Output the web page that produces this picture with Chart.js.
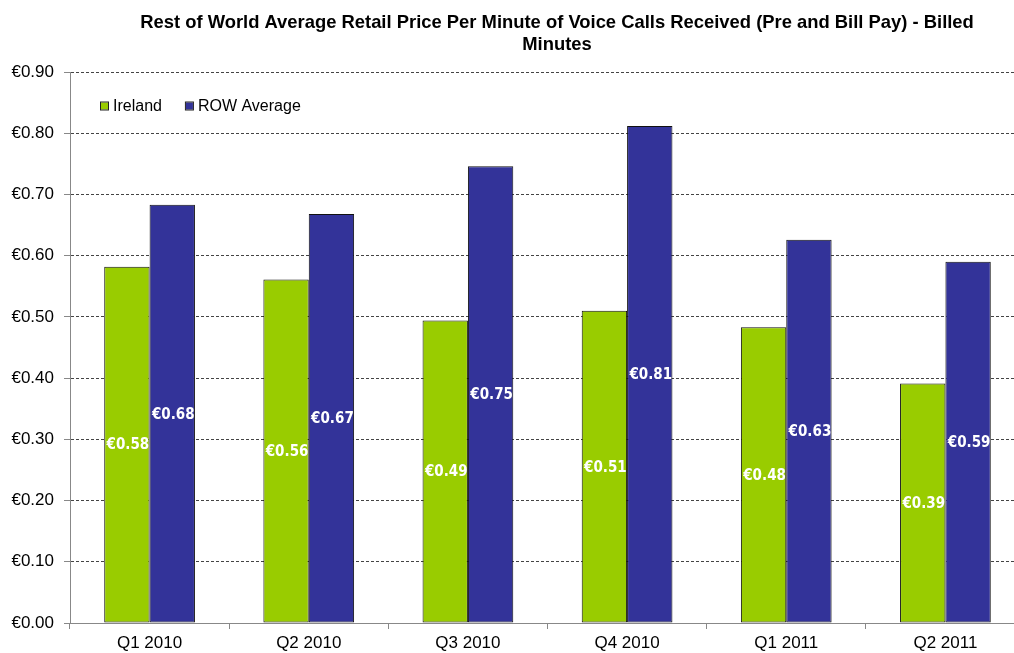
<!DOCTYPE html>
<html>
<head>
<meta charset="utf-8">
<script src="https://cdn.jsdelivr.net/npm/chart.js@4"></script>
<style>
  html, body { margin: 0; padding: 0; background: #fff; overflow: hidden; }
  #wrap { width: 1030px; height: 653px; position: relative; }
</style>
</head>
<body>
<div id="wrap"><canvas id="chart" width="1030" height="653"></canvas></div>
<script>
// chart data (labels round to cents)
const quarters = ['Q1 2010', 'Q2 2010', 'Q3 2010', 'Q4 2010', 'Q1 2011', 'Q2 2011'];
const irelandPrices = [0.582, 0.561, 0.494, 0.510, 0.483, 0.391];
const rowAveragePrices = [0.683, 0.668, 0.746, 0.812, 0.626, 0.590];
const titleLines = [
    'Rest of World Average Retail Price Per Minute of Voice Calls Received (Pre and Bill Pay) - Billed',
    'Minutes'
];

const GREEN = '#99cc00';
const BLUE = '#333399';

function euro(v) {
    return '\u20ac' + v.toFixed(2);
}

// title drawn above the plot, centred a little right of the canvas middle
const titlePlugin = {
    id: 'titleText',
    afterDraw(chart) {
        const ctx = chart.ctx;
        ctx.save();
        ctx.fillStyle = '#000';
        ctx.font = 'bold 18.4px "Liberation Sans", Arial, sans-serif';
        ctx.textAlign = 'center';
        ctx.textBaseline = 'middle';
        ctx.fillText(titleLines[0], 557, 23);
        ctx.fillText(titleLines[1], 557, 45);
        ctx.restore();
    }
};

// legend sits inside the plot, top left
const innerLegend = {
    id: 'innerLegend',
    afterDraw(chart) {
        const ctx = chart.ctx;
        const area = chart.chartArea;
        let x = area.left + 31;
        const y = area.top + 34;
        ctx.save();
        ctx.font = '16px "Liberation Sans", Arial, sans-serif';
        ctx.textBaseline = 'middle';
        chart.data.datasets.forEach(function(ds) {
            ctx.fillStyle = ds.backgroundColor;
            ctx.fillRect(x, y - 3.5, 7, 7);
            ctx.strokeStyle = '#222';
            ctx.lineWidth = 1;
            ctx.strokeRect(x - 0.5, y - 4, 8, 8);
            ctx.fillStyle = '#000';
            ctx.fillText(ds.label, x + 12, y + 1);
            x += 12 + ctx.measureText(ds.label).width + 24;
        });
        ctx.restore();
    }
};

// white value labels in the middle of each bar
const barLabels = {
    id: 'barLabels',
    afterDatasetsDraw(chart) {
        const ctx = chart.ctx;
        ctx.save();
        ctx.fillStyle = '#fff';
        ctx.font = 'bold 15px "DejaVu Sans Condensed", "DejaVu Sans", Verdana, sans-serif';
        ctx.textAlign = 'center';
        ctx.textBaseline = 'middle';
        chart.data.datasets.forEach(function(ds, i) {
            chart.getDatasetMeta(i).data.forEach(function(bar, j) {
                ctx.fillText(euro(ds.data[j]), bar.x + 1, (bar.y + bar.base) / 2 + 1);
            });
        });
        ctx.restore();
    }
};

new Chart(document.getElementById('chart'), {
    type: 'bar',
    data: {
        labels: quarters,
        datasets: [
            {
                label: 'Ireland',
                data: irelandPrices,
                backgroundColor: GREEN,
                borderColor: '#111',
                borderWidth: 1,
                borderSkipped: false
            },
            {
                label: 'ROW Average',
                data: rowAveragePrices,
                backgroundColor: BLUE,
                borderColor: '#111',
                borderWidth: 1,
                borderSkipped: false
            }
        ]
    },
    options: {
        responsive: false,
        animation: false,
        layout: { padding: { top: 72, right: 5, left: 0, bottom: 0 } },
        datasets: {
            bar: { barPercentage: 1, categoryPercentage: 0.57 }
        },
        plugins: {
            legend: { display: false },
            title: { display: false },
            tooltip: { enabled: false }
        },
        scales: {
            x: {
                grid: {
                    display: true,
                    drawOnChartArea: false,
                    offset: true,
                    tickLength: 6,
                    tickColor: '#888'
                },
                border: { display: true, color: '#888', width: 1 },
                ticks: {
                    color: '#000',
                    padding: 4,
                    font: { family: '"Liberation Sans", Arial, sans-serif', size: 17 }
                },
                afterFit(scale) { scale.height = 30; }
            },
            y: {
                min: 0,
                max: 0.9,
                grid: {
                    color: '#444',
                    tickLength: 6,
                    tickColor: '#888',
                    tickBorderDash: []
                },
                border: { display: true, color: '#888', width: 1, dash: [3, 2] },
                ticks: {
                    stepSize: 0.1,
                    color: '#000',
                    padding: 10,
                    font: { family: '"Liberation Sans", Arial, sans-serif', size: 17 },
                    callback: function(v) { return euro(v); }
                },
                afterFit(scale) { scale.width = 70; }
            }
        }
    },
    plugins: [barLabels, innerLegend, titlePlugin]
});
</script>
</body>
</html>
